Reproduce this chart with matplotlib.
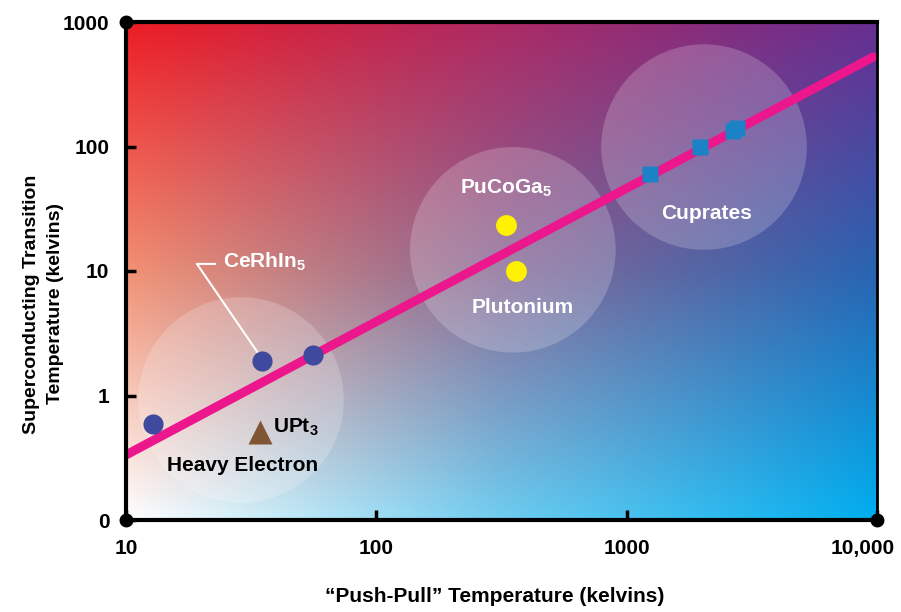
import numpy as np
import matplotlib
matplotlib.use('Agg')
import matplotlib.pyplot as plt
from matplotlib.transforms import ScaledTranslation

# font setup
plt.rcParams['font.family'] = ['Liberation Sans', 'DejaVu Sans']
plt.rcParams['font.weight'] = 'bold'
plt.rcParams['axes.labelweight'] = 'bold'
plt.rcParams['mathtext.fontset'] = 'custom'
plt.rcParams['mathtext.rm'] = 'Liberation Sans:bold'
plt.rcParams['mathtext.default'] = 'rm'

# data
heavy_x = [12.8, 34.9, 55.8]
heavy_y = [0.59, 1.89, 2.11]
upt3_x = [34.3]
upt3_y = [0.51]
pu_x = [330, 361]
pu_y = [23.4, 10.0]
cup_x = [1240, 1960, 2660, 2760]
cup_y = [60, 99, 133, 141]
fit_x = [10, 9640]
fit_y = [0.333, 523]

# translucent group circles
group_x = [28.8, 351, 2037]
group_y = [0.92, 14.8, 99]

x_ticks = [10, 100, 1000, 10000]
x_ticklabels = ['10', '100', '1000', '10,000']
y_ticks = [0.1, 1, 10, 100, 1000]
y_ticklabels = ['0', '1', '10', '100', '1000']

fig = plt.figure(figsize=(9.01, 6.12), dpi=100)
ax = fig.add_axes([126 / 901, 92 / 612, 751 / 901, 498 / 612])
ax.set_xscale('log')
ax.set_yscale('log')
ax.set_xlim(10, 10000)
ax.set_ylim(0.1, 1000)

# background gradient from a 3x3 grid of control colours (top row first)
ctrl = np.array([
    [[237, 28, 36], [172, 42, 100], [104, 46, 145]],
    [[242, 145, 115], [135, 105, 150], [40, 100, 178]],
    [[255, 255, 255], [110, 205, 240], [0, 174, 239]],
]) / 255
n = 300
t = np.linspace(0, 2, n)
i0 = np.minimum(t.astype(int), 1)
f = t - i0
# interpolate along rows (vertical) then columns (horizontal)
rows = ctrl[i0] * (1 - f)[:, None, None] + ctrl[i0 + 1] * f[:, None, None]
grad = rows[:, i0] * (1 - f)[None, :, None] + rows[:, i0 + 1] * f[None, :, None]
ax.imshow(grad, extent=[0, 1, 0, 1], transform=ax.transAxes,
          aspect='auto', zorder=0, interpolation='bilinear')

# group circles (scatter markers stay round on log axes)
ax.scatter(group_x, group_y, s=(2 * 74) ** 2, color='white', alpha=0.2,
           edgecolors='none', zorder=1)

# fit line
ax.plot(fit_x, fit_y, color='#EC178C', lw=6.5, solid_capstyle='round', zorder=2)

# data points
ax.plot(heavy_x, heavy_y, 'o', color='#3F4A9E', ms=14.5, mec='none', zorder=3)
ax.plot(upt3_x, upt3_y, '^', color='#7F5534', ms=17, mec='none', zorder=3)
ax.plot(pu_x, pu_y, 'o', color='#FFF200', ms=15, mec='none', zorder=3)
ax.plot(cup_x, cup_y, 's', color='#1B82C6', ms=12, mec='none', zorder=3)

# labels
fs = 15
ax.text(29.1, 0.272, 'Heavy Electron', ha='center', va='center', fontsize=fs, color='black', zorder=4)
ax.text(38.6, 0.56, 'UPt$_3$', ha='left', va='center', fontsize=fs, color='black', zorder=4)
ax.text(216, 46.4, 'PuCoGa$_5$', ha='left', va='center', fontsize=fs, color='white', zorder=4)
ax.text(385, 5.05, 'Plutonium', ha='center', va='center', fontsize=fs, color='white', zorder=4)
ax.text(2094, 28.7, 'Cuprates', ha='center', va='center', fontsize=fs, color='white', zorder=4)
ax.text(24.4, 11.8, 'CeRhIn$_5$', ha='left', va='center', fontsize=fs, color='white', zorder=4)

# CeRhIn5 leader line
ax.plot([22.7, 19.2, 33.7], [11.4, 11.4, 2.19], color='white', lw=1.5, zorder=2.5)

# axes styling
for side in ['left', 'bottom', 'top']:
    ax.spines[side].set_linewidth(3)
ax.spines['right'].set_linewidth(2)
ax.set_xticks(x_ticks)
ax.set_xticklabels(x_ticklabels)
ax.set_yticks(y_ticks)
ax.set_yticklabels(y_ticklabels)
ax.minorticks_off()
ax.tick_params(direction='in', length=7, width=2.5, labelsize=fs, pad=12)
ax.tick_params(axis='x', pad=14)

# last x label sits a little left of its tick so it stays inside the figure
last = ax.get_xticklabels()[-1]
last.set_transform(last.get_transform() + ScaledTranslation(-14 / 100, 0, fig.dpi_scale_trans))

# corner dots
ax.plot([10, 10, 10000], [1000, 0.1, 0.1], 'o', color='black', ms=9,
        clip_on=False, zorder=5)

ax.set_xlabel('\u201cPush-Pull\u201d Temperature (kelvins)', fontsize=15)
ax.set_ylabel('Superconducting Transition\nTemperature (kelvins)', fontsize=14,
              linespacing=1.55)
ax.xaxis.set_label_coords(0.491, -0.135)
ax.yaxis.set_label_coords(-0.083, 0.434)

fig.savefig('out.png', dpi=100)
